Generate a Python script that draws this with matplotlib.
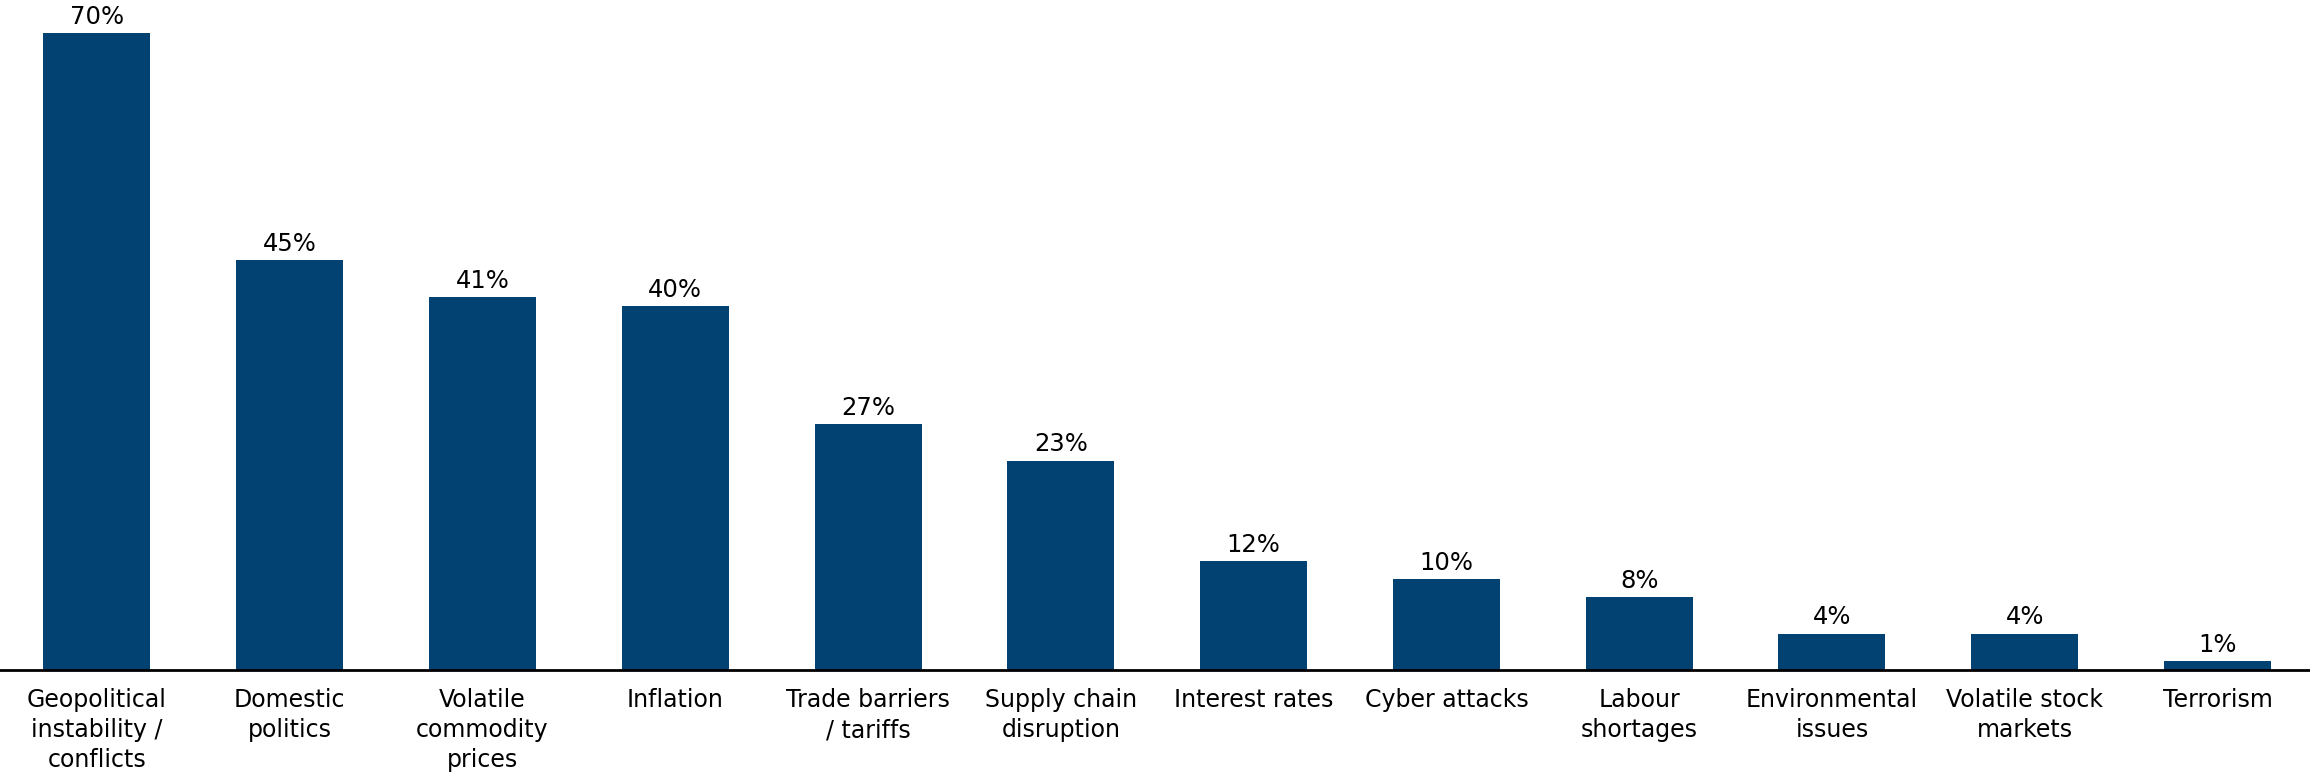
import numpy as np
import matplotlib
matplotlib.use("Agg")
import matplotlib.pyplot as plt

categories = ["Geopolitical\ninstability /\nconflicts", "Domestic\npolitics",
              "Volatile\ncommodity\nprices", "Inflation", "Trade barriers\n/ tariffs",
              "Supply chain\ndisruption", "Interest rates", "Cyber attacks",
              "Labour\nshortages", "Environmental\nissues", "Volatile stock\nmarkets",
              "Terrorism"]
shares = [70, 45, 41, 40, 27, 23, 12, 10, 8, 4, 4, 1]

bar_color = "#024272"

fig = plt.figure(figsize=(23.1, 7.79), dpi=100)
ax = fig.add_axes([0.0, 0.14, 1.0, 0.86])

x = np.arange(len(categories))
bars = ax.bar(x, shares, width=0.555, color=bar_color)

# value labels on top of each bar
for xi, v in zip(x, shares):
    ax.text(xi, v + 0.45, f"{v}%", ha="center", va="bottom", fontsize=17.5, color="black")

ax.set_xlim(-0.503, len(categories) - 0.52)
ax.set_ylim(0, 73.6)

ax.set_xticks(x)
ax.set_xticklabels(categories, fontsize=17, linespacing=1.32)
ax.tick_params(axis="x", length=0, pad=13)
ax.set_yticks([])

for side in ["top", "right", "left"]:
    ax.spines[side].set_visible(False)
ax.spines["bottom"].set_linewidth(2)
ax.spines["bottom"].set_color("black")

fig.savefig("out.png", dpi=100)
